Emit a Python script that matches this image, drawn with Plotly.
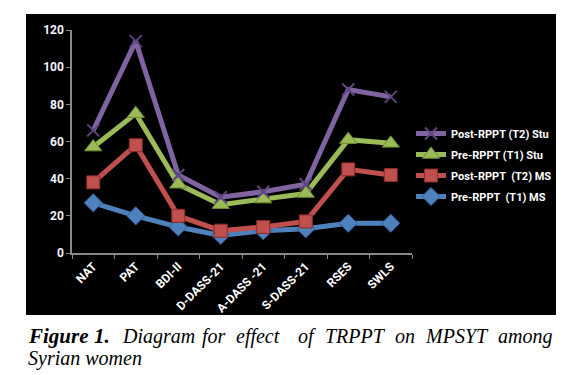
import plotly.graph_objects as go

categories = ["NAT", "PAT", "BDI-II", "D-DASS-21", "A-DASS -21", "S-DASS-21", "RSES", "SWLS"]
post_stu = [66, 114, 42, 30, 33, 37, 88, 84]
pre_stu = [57, 75, 37, 26, 29, 32, 61, 59]
post_ms = [38, 58, 20, 12, 14, 17, 45, 42]
pre_ms = [27, 20, 14, 9.5, 12, 13, 16, 16]

series = [
    ("Pre-RPPT  (T1) MS", pre_ms, "#4F81BD", "diamond", 14, "#2C5D98", 4),
    ("Post-RPPT  (T2) MS", post_ms, "#C0504D", "square", 13, "#8C2B28", 3),
    ("Pre-RPPT (T1) Stu", pre_stu, "#9BBB59", "triangle-up", 15, "#6E8B36", 2),
    ("Post-RPPT (T2) Stu", post_stu, "#8064A2", "x-thin", 12, "#5E4580", 1),
]

W, H = 574, 375
L, R, T, B = 72, 412, 30, 253

def xp(px):
    return (px - L) / (R - L)

def yp(py):
    return (B - py) / (B - T)

fig = go.Figure()
for i, (name, vals, col, sym, size, dark, rank) in enumerate(series):
    mk = dict(symbol=sym, size=size, color=col, line=dict(color=dark, width=1))
    if sym == "x-thin":
        mk = dict(symbol=sym, size=size, color=col, line=dict(color=dark, width=2))
    fig.add_trace(go.Scatter(
        x=categories, y=vals, name=name, mode="lines+markers",
        line=dict(color=col, width=5), marker=mk,
        legendgroup=f"g{i}", legendrank=rank,
    ))

fig.update_layout(
    width=W, height=H,
    margin=dict(l=L, r=W - R, t=T, b=H - B),
    paper_bgcolor="white",
    plot_bgcolor="#404040",
    showlegend=True,
    legend=dict(
        x=xp(411), y=yp(119), xanchor="left", yanchor="top",
        traceorder="grouped", tracegroupgap=2,
        bgcolor="rgba(0,0,0,0)",
        font=dict(family="Roboto", size=11, color="white", weight="bold"),
        itemwidth=30,
    ),
    xaxis=dict(
        type="category", tickangle=-45, tickson="boundaries",
        ticks="outside", ticklen=4, tickcolor="#888888",
        showline=True, linecolor="#888888", linewidth=1.5,
        showgrid=False, zeroline=False,
        tickfont=dict(family="Roboto", size=12, color="white", weight="bold"),
        range=[-0.5, 7.5],
    ),
    yaxis=dict(
        range=[0, 120], dtick=20, ticks="outside", ticklen=4, tickcolor="#888888",
        showline=True, linecolor="#888888", linewidth=1.5,
        showgrid=False, zeroline=False,
        tickfont=dict(family="Roboto", size=12, color="#F0F6FF", weight="bold"),
    ),
    shapes=[dict(
        type="rect", xref="paper", yref="paper",
        x0=xp(26), x1=xp(556), y0=yp(315), y1=yp(14),
        fillcolor="black", line=dict(width=0), layer="below",
    )],
)

words = [
    ("<b><i>Figure</i></b>", 26, 21),
    ("<b><i>1.</i></b>", 92, 21),
    ("<i>Diagram</i>", 120, 20),
    ("<i>for</i>", 200, 20),
    ("<i>effect</i>", 234, 20),
    ("<i>of</i>", 296, 20),
    ("<i>TRPPT</i>", 323, 20),
    ("<i>on</i>", 393, 20),
    ("<i>MPSYT</i>", 423, 20),
    ("<i>among</i>", 496, 20),
]
for txt, x0, fs in words:
    fig.add_annotation(
        text=txt, xref="paper", yref="paper", x=xp(x0), y=yp(336),
        xanchor="left", yanchor="middle", showarrow=False,
        font=dict(family="Liberation Serif", size=fs, color="black"),
    )
fig.add_annotation(
    text="<i>Syrian women</i>", xref="paper", yref="paper", x=xp(26), y=yp(358),
    xanchor="left", yanchor="middle", showarrow=False,
    font=dict(family="Liberation Serif", size=20, color="black"),
)

fig.write_html("out.html", post_script="document.body.style.margin='0';",
               config={"displayModeBar": False})
